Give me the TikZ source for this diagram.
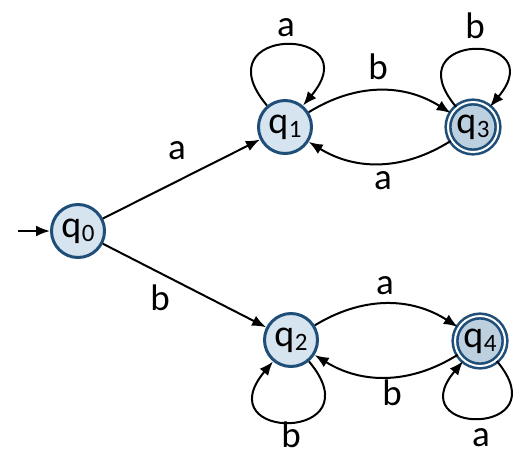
\documentclass[tikz,border=0pt]{standalone}
\usepackage{fontspec}
\setmainfont{Carlito}
\usetikzlibrary{arrows.meta}
\definecolor{stborder}{HTML}{1F4E79}
\definecolor{stfill}{HTML}{D6E4F0}
\definecolor{accfill}{HTML}{BCD0E0}
\tikzset{
  state/.style={circle, draw=stborder, line width=3pt, fill=stfill, minimum size=53pt, inner sep=0pt, font=\fontsize{38}{38}\selectfont},
  accstate/.style={circle, draw=stborder, line width=2.6pt, double=white, double distance=2pt, fill=accfill, minimum size=50pt, inner sep=0pt, font=\fontsize{38}{38}\selectfont},
  trans/.style={draw, line width=2pt, -{Latex[length=14pt,width=11pt]}},
  lbl/.style={font=\fontsize{37}{37}\selectfont, inner sep=0pt},
}
\newcommand{\qsub}[1]{q\kern0.5pt\raisebox{-4.5pt}{\fontsize{25}{25}\selectfont #1}}
\begin{document}
\begin{tikzpicture}[x=1pt,y=-1pt]
\useasboundingbox (0,0) rectangle (532,469);
\node[state] (q0) at (78,231) {\qsub{0}};
\node[state] (q1) at (285,127) {\qsub{1}};
\node[accstate] (q3) at (473,127) {\qsub{3}};
\node[state] (q2) at (291,340) {\qsub{2}};
\node[accstate] (q4) at (480,341) {\qsub{4}};
\coordinate (init) at (18,231);
\draw[trans] (init) -- (q0);
\draw[trans] (q0) -- (q1);
\draw[trans] (q0) -- (q2);
\draw[trans] (q1) to[out=130,in=50,looseness=7.5] (q1);
\draw[trans] (q3) to[out=130,in=50,looseness=7.5] (q3);
\draw[trans] (q2) to[out=-50,in=-130,looseness=7.5] (q2);
\draw[trans] (q4) to[out=-50,in=-130,looseness=7.5] (q4);
\draw[trans] (q1) to[bend left=32] (q3);
\draw[trans] (q3) to[bend left=32] (q1);
\draw[trans] (q2) to[bend left=32] (q4);
\draw[trans] (q4) to[bend left=32] (q2);
\node[lbl] (la01) at (177,151) {a};
\node[lbl] (lb02) at (160,298) {b};
\node[lbl] (la11) at (286,28) {a};
\node[lbl] (lb33) at (475,26) {b};
\node[lbl] (lb13) at (378,67) {b};
\node[lbl] (la31) at (383,181) {a};
\node[lbl] (la24) at (385,286) {a};
\node[lbl] (lb42) at (392,393) {b};
\node[lbl] (lb22) at (291,435) {b};
\node[lbl] (la44) at (481,438) {a};
\end{tikzpicture}
\end{document}
